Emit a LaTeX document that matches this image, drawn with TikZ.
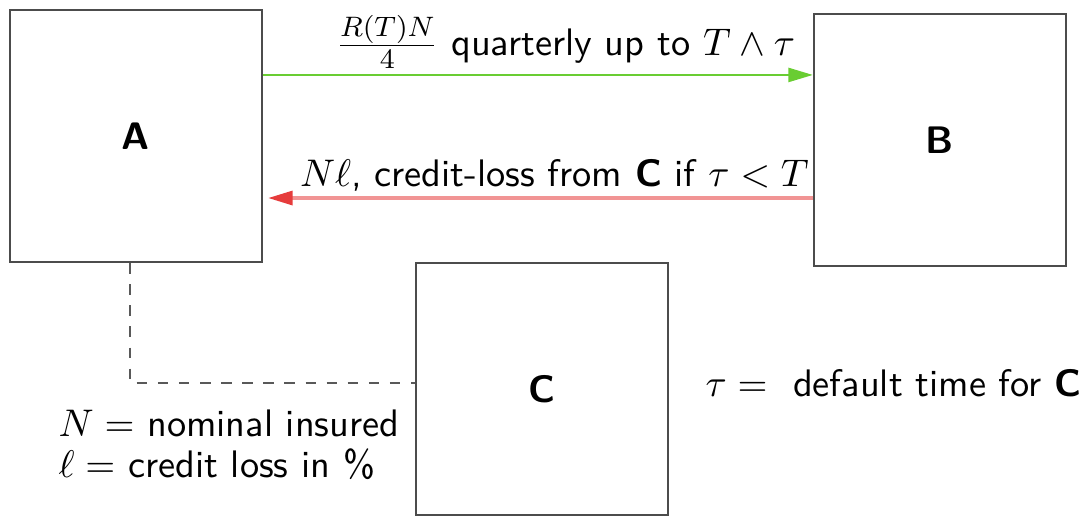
\documentclass[tikz,border=0pt]{standalone}
\usepackage{tikz}
\usetikzlibrary{arrows.meta, positioning, calc}
\usepackage{amsmath}
\usepackage{amssymb}
\definecolor{paygreen}{RGB}{105,205,50}
\definecolor{lossred}{RGB}{230,60,60}

\begin{document}
\begin{tikzpicture}[x=0.01cm, y=-0.01cm, font=\sffamily\fontsize{10.9}{11.8}\selectfont,
  box/.style={draw=gray!60!black, line width=0.6pt, minimum width=2.52cm,
              minimum height=2.52cm, font=\sffamily\bfseries\fontsize{10.9}{11.8}\selectfont},
  pay/.style={draw=paygreen, line width=0.7pt, -{Triangle[length=7pt, width=4pt]}},
  loss/.style={draw=lossred!55, line width=0.9pt,
               -{Triangle[length=7pt, width=4pt, color=lossred]}},
  lb/.style={above, inner sep=1.5pt},
  link/.style={dashed, draw=gray!70!black, line width=0.5pt},
  note/.style={right, inner sep=0pt, align=left}]
  \useasboundingbox (0,0) rectangle (1084,516);
  % ---- the three parties of the contract
  \node[box] (A) at (136,136) {A};
  \node[box] (B) at (940,140) {B};
  \node[box] (C) at (542,389) {C};
  % ---- premium leg from A to B, protection leg back from B to A
  \draw[pay] ([yshift=0.61cm]A.east) -- node[lb, pos=0.55]
    {$\frac{R(T)N}{4}$ quarterly up to $T\wedge\tau$} ([yshift=0.61cm]A.east -| B.west);
  \draw[loss, shorten >=0.05cm] ([yshift=-0.58cm]B.west) -- node[lb, pos=0.47]
    {$N\ell$, credit-loss from \textbf{C} if $\tau<T$} ([yshift=-0.58cm]B.west -| A.east);
  % ---- A is exposed to the reference name C
  \draw[link] ([xshift=-0.06cm]A.south) |- ([yshift=0.06cm]C.west);
  \node[note] (legend) at (58,445) {$N=$ nominal insured\\$\ell=$ credit loss in \%};
  \node[note] (deftime) at (705,383) {$\tau=$~ default time for \textbf{C}};
\end{tikzpicture}
\end{document}
